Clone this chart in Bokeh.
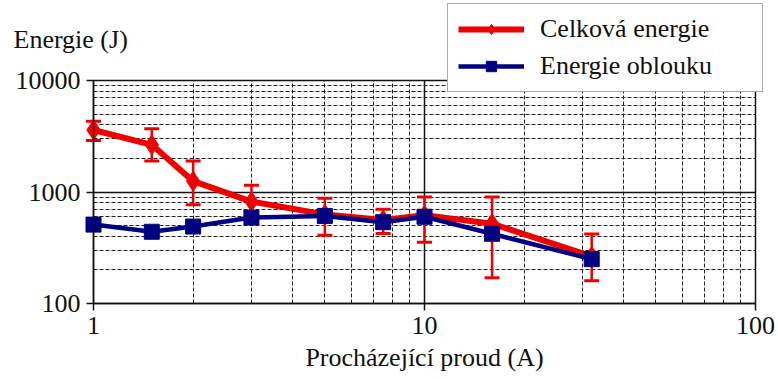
from bokeh.plotting import figure
from bokeh.models import (FixedTicker, NumeralTickFormatter, Label, Legend,
                          LegendItem, ColumnDataSource)
from bokeh.embed import file_html
from bokeh.resources import INLINE

# ---- data ----
current = [1, 1.5, 2, 3, 5, 7.5, 10, 16, 32]
total_energy = [3600, 2650, 1250, 820, 630, 560, 620, 520, 265]
total_upper = [4300, 3700, 1900, 1150, 880, 700, 900, 900, 420]
total_lower = [2900, 1900, 770, 560, 410, 425, 355, 170, 160]
arc_energy = [510, 440, 490, 590, 610, 536, 600, 422, 250]

x_major_ticks = [1, 10, 100]
x_minor_ticks = [m * d for d in (1, 10) for m in range(2, 10)]
y_major_ticks = [100, 1000, 10000]
y_minor_ticks = [m * d for d in (100, 1000) for m in range(2, 10)]

label_y = "Energie (J)"
label_x = "Procházející proud (A)"
name_total = "Celková energie"
name_arc = "Energie oblouku"

RED = "#ee0000"
BLUE = "#000080"
INK = "#111111"
FONT = "'Liberation Serif', 'Times New Roman', serif"
FS = "26px"

# ---- layout: the frame covers the whole canvas, data box placed inside ----
W, H = 778, 379
X0_PX, X1_PX = 93, 755      # pixel of x=1 and x=100
Y0_PX, Y1_PX = 303, 80      # pixel of y=100 and y=10000
xdec = (X1_PX - X0_PX) / 2.0
ydec = (Y0_PX - Y1_PX) / 2.0
x_range = (10 ** (0 - X0_PX / xdec), 10 ** (2 + (W - X1_PX) / xdec))
y_range = (10 ** (2 - (H - Y0_PX) / ydec), 10 ** (4 + Y1_PX / ydec))

src = ColumnDataSource(dict(x=current, tot=total_energy, up=total_upper,
                            lo=total_lower, arc=arc_energy))

p = figure(width=W, height=H, x_axis_type="log", y_axis_type="log",
           x_range=x_range, y_range=y_range,
           output_backend="svg", toolbar_location=None,
           min_border=0)
p.background_fill_color = "white"
p.border_fill_color = "white"
p.outline_line_color = None

for ax, maj, mnr, loc in ((p.xaxis, x_major_ticks, x_minor_ticks, y_major_ticks[0]),
                          (p.yaxis, y_major_ticks, y_minor_ticks, x_major_ticks[0])):
    ax.ticker = FixedTicker(ticks=maj, minor_ticks=mnr)
    ax.formatter = NumeralTickFormatter(format="0")
    ax.fixed_location = loc
    ax.bounds = (maj[0], maj[-1])
    ax.major_label_text_font = FONT
    ax.major_label_text_font_size = FS
    ax.major_label_text_color = INK
    ax.axis_line_color = INK
    ax.axis_line_width = 1.5
    ax.major_tick_line_color = INK
    ax.major_tick_line_width = 1.5
    ax.major_tick_out = 7
    ax.major_tick_in = 0
    ax.minor_tick_line_color = None
    ax.major_label_standoff = 6

p.xaxis.axis_label = label_x
p.xaxis.axis_label_text_font = FONT
p.xaxis.axis_label_text_font_size = FS
p.xaxis.axis_label_text_font_style = "normal"
p.xaxis.axis_label_text_color = INK
p.xaxis.axis_label_standoff = 6

p.xgrid.cross_bounds = (y_major_ticks[0], y_major_ticks[-1])
p.ygrid.cross_bounds = (x_major_ticks[0], x_major_ticks[-1])
for g in (p.xgrid, p.ygrid):
    g.grid_line_color = INK
    g.grid_line_width = 1.5
    g.minor_grid_line_color = "#222222"
    g.minor_grid_line_width = 1
    g.minor_grid_line_dash = "4 2"

# total energy (red) with error bars
r_line = p.line("x", "tot", source=src, line_color=RED, line_width=6)
p.segment(x0="x", y0="lo", x1="x", y1="up", source=src, line_color=RED, line_width=2.5)
p.scatter("x", "up", source=src, marker="dash", size=15, line_color=RED, line_width=3)
p.scatter("x", "lo", source=src, marker="dash", size=15, line_color=RED, line_width=3)
r_mark = p.scatter("x", "tot", source=src, marker="diamond", size=20, color=RED)

# arc energy (blue)
b_line = p.line("x", "arc", source=src, line_color=BLUE, line_width=4.5)
b_mark = p.scatter("x", "arc", source=src, marker="square", size=15, color=BLUE)

p.add_layout(Label(x=13, y=H - 39, x_units="screen", y_units="screen",
                   text=label_y, text_font=FONT, text_font_size=FS,
                   text_color=INK, text_baseline="alphabetic"))

legend = Legend(items=[LegendItem(label=name_total, renderers=[r_line, r_mark]),
                       LegendItem(label=name_arc, renderers=[b_line, b_mark])],
                location=(447, H - 92))
legend.label_text_font = FONT
legend.label_text_font_size = FS
legend.label_text_color = INK
legend.glyph_width = 66
legend.glyph_height = 26
legend.label_height = 26
legend.label_width = 212
legend.label_standoff = 16
legend.spacing = 7
legend.padding = 10
legend.margin = 0
legend.border_line_color = "#555555"
legend.border_line_width = 1
legend.background_fill_color = "white"
legend.background_fill_alpha = 1.0
p.add_layout(legend, "center")

open("out.html", "w").write(file_html(p, INLINE))
